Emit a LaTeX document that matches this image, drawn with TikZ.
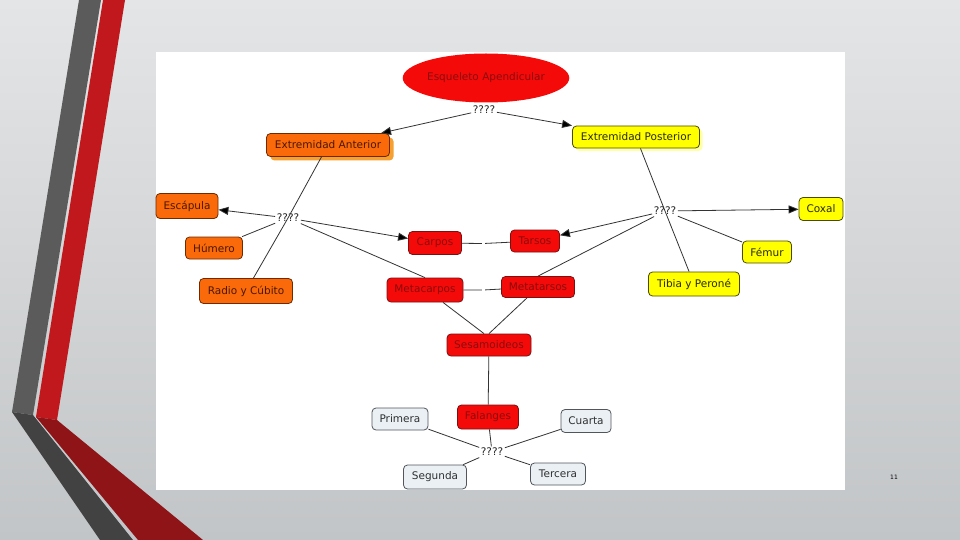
\documentclass[tikz,border=0pt]{standalone}
\usepackage{fontspec}
\setmainfont{DejaVu Sans}
\usetikzlibrary{shapes.geometric,arrows.meta,shadows}
\definecolor{bgTop}{HTML}{E4E5E6}
\definecolor{bgBot}{HTML}{C2C5C7}
\definecolor{grayUp}{HTML}{5B5B5B}
\definecolor{grayLo}{HTML}{424242}
\definecolor{redUp}{HTML}{C0181C}
\definecolor{redLo}{HTML}{8E1418}
\definecolor{cRed}{HTML}{F50A0A}
\definecolor{cRedB}{HTML}{7A1010}
\definecolor{cRedT}{HTML}{8B0A0A}
\definecolor{cOr}{HTML}{FA6A0A}
\definecolor{cOrB}{HTML}{6E2A00}
\definecolor{cOrT}{HTML}{4A1800}
\definecolor{cOrS}{HTML}{F5A030}
\definecolor{cYe}{HTML}{FFFF00}
\definecolor{cYeB}{HTML}{4A4A00}
\definecolor{cYeT}{HTML}{2A2A10}
\definecolor{cYeS}{HTML}{FFFF90}
\definecolor{cGr}{HTML}{EAF0F4}
\definecolor{cGrB}{HTML}{50565C}
\definecolor{cGrT}{HTML}{303030}
\definecolor{cLine}{HTML}{333333}
\tikzset{
  concept/.style={draw, rounded corners=4pt, line width=0.8pt, inner xsep=4pt, inner ysep=1pt,
    font=\fontsize{10.5}{12}\selectfont},
  redc/.style={concept, fill=cRed, draw=cRedB, text=cRedT},
  orc/.style={concept, fill=cOr, draw=cOrB, text=cOrT},
  yec/.style={concept, fill=cYe, draw=cYeB, text=cYeT},
  grc/.style={concept, fill=cGr, draw=cGrB, text=cGrT},
  link/.style={font=\fontsize{10.5}{12}\selectfont, inner sep=1.5pt, text=black!85},
  gapnode/.style={inner sep=1.5pt, minimum size=0pt},
  conn/.style={draw=cLine, line width=0.8pt},
  arr/.style={conn, -{Triangle[length=10pt,width=8pt,fill=black]}},
}
\begin{document}
\begin{tikzpicture}[x=1pt,y=-1pt]
\useasboundingbox (0,0) rectangle (960,540);
% background
\shade[top color=bgTop, bottom color=bgBot] (0,0) rectangle (960,540);
% decorative stripes
\fill[grayUp] (79,0) -- (101,0) -- (33,415) -- (12,412) -- cycle;
\fill[redUp] (103,0) -- (125,0) -- (57,420) -- (36,417) -- cycle;
\fill[grayLo] (12,412) -- (33,415) -- (133,540) -- (100,540) -- cycle;
\fill[redLo] (36,417) -- (57,420) -- (203,540) -- (138,540) -- cycle;
% white panel
\fill[white] (156,52) rectangle (845,490);
% page number
\node[font=\fontsize{6}{7}\selectfont, text=black] (pg) at (894,477) {11};

% nodes
\node[ellipse, fill=cRed, text=cRedT, minimum width=138pt, minimum height=49pt, inner sep=0pt,
  font=\fontsize{10.5}{12}\selectfont] (esq) at (486,78) {Esqueleto Apendicular};
\node[link] (q1) at (484,110) {????};
\node[orc, minimum width=123pt, minimum height=23pt,
  drop shadow={shadow xshift=4pt, shadow yshift=-4pt, fill=cOrS, opacity=1}] (extant) at (328,145) {Extremidad Anterior};
\node[yec, minimum width=127pt, minimum height=22pt,
  drop shadow={shadow xshift=3pt, shadow yshift=-3pt, fill=cYeS, opacity=0.8}] (extpost) at (636,137) {Extremidad Posterior};
\node[link] (q2) at (288,218) {????};
\node[orc, minimum width=62pt, minimum height=25pt] (esc) at (187,206) {Escápula};
\node[orc, minimum width=57pt, minimum height=22pt] (hum) at (214,248) {Húmero};
\node[orc, minimum width=93pt, minimum height=25pt] (radio) at (246,291) {Radio y Cúbito};
\node[redc, minimum width=53pt, minimum height=23pt] (carpos) at (435,243) {Carpos};
\node[redc, minimum width=49pt, minimum height=22pt] (tarsos) at (535,241) {Tarsos};
\node[redc, minimum width=76pt, minimum height=24pt] (metac) at (425,290) {Metacarpos};
\node[redc, minimum width=73pt, minimum height=21pt] (metat) at (538,287) {Metatarsos};
\node[link] (q3) at (665,211) {????};
\node[yec, minimum width=44pt, minimum height=23pt] (coxal) at (821,209) {Coxal};
\node[yec, minimum width=49pt, minimum height=22pt] (femur) at (767,252) {Fémur};
\node[yec, minimum width=91pt, minimum height=24pt] (tibia) at (694,284) {Tibia y Peroné};
\node[redc, minimum width=84pt, minimum height=22pt] (sesa) at (489,345) {Sesamoideos};
\node[redc, minimum width=61pt, minimum height=24pt] (fal) at (488,417) {Falanges};
\node[grc, minimum width=56pt, minimum height=22pt] (prim) at (400,419) {Primera};
\node[grc, minimum width=50pt, minimum height=23pt] (cuar) at (586,421) {Cuarta};
\node[link] (q4) at (492,452) {????};
\node[grc, minimum width=63pt, minimum height=24pt] (seg) at (435,477) {Segunda};
\node[grc, minimum width=55pt, minimum height=22pt] (terc) at (558,474) {Tercera};
\node[gapnode] (g1) at (483.5,243.5) {};
\node[gapnode] (g2) at (483.5,290) {};

% connectors
\draw[arr] (q1) -- (extant);
\draw[arr] (q1) -- (extpost);
\draw[conn] (extant) -- (q2.center) -- (radio);
\draw[arr] (q2) -- (esc);
\draw[conn] (q2) -- (hum);
\draw[arr] (q2) -- (carpos);
\draw[conn] (q2) -- (metac.north);
\draw[conn] (extpost) -- (q3.center) -- (tibia);
\draw[arr] (q3) -- (coxal);
\draw[arr] (q3) -- (tarsos);
\draw[conn] (q3) -- (femur);
\draw[conn] (q3) -- (metat.north);
\draw[conn] (carpos) -- (g1) -- (tarsos);
\draw[conn] (metac) -- (g2) -- (metat);
\draw[conn] ([xshift=18pt]metac.south) -- ([xshift=-5pt]sesa.north);
\draw[conn] ([xshift=-11pt]metat.south) -- ([xshift=0pt]sesa.north);
\draw[conn] (sesa) -- (fal);
\draw[conn] (fal) -- (q4);
\draw[conn] (q4) -- (prim);
\draw[conn] (q4) -- (cuar);
\draw[conn] (q4) -- (seg);
\draw[conn] (q4) -- (terc);
\end{tikzpicture}
\end{document}
